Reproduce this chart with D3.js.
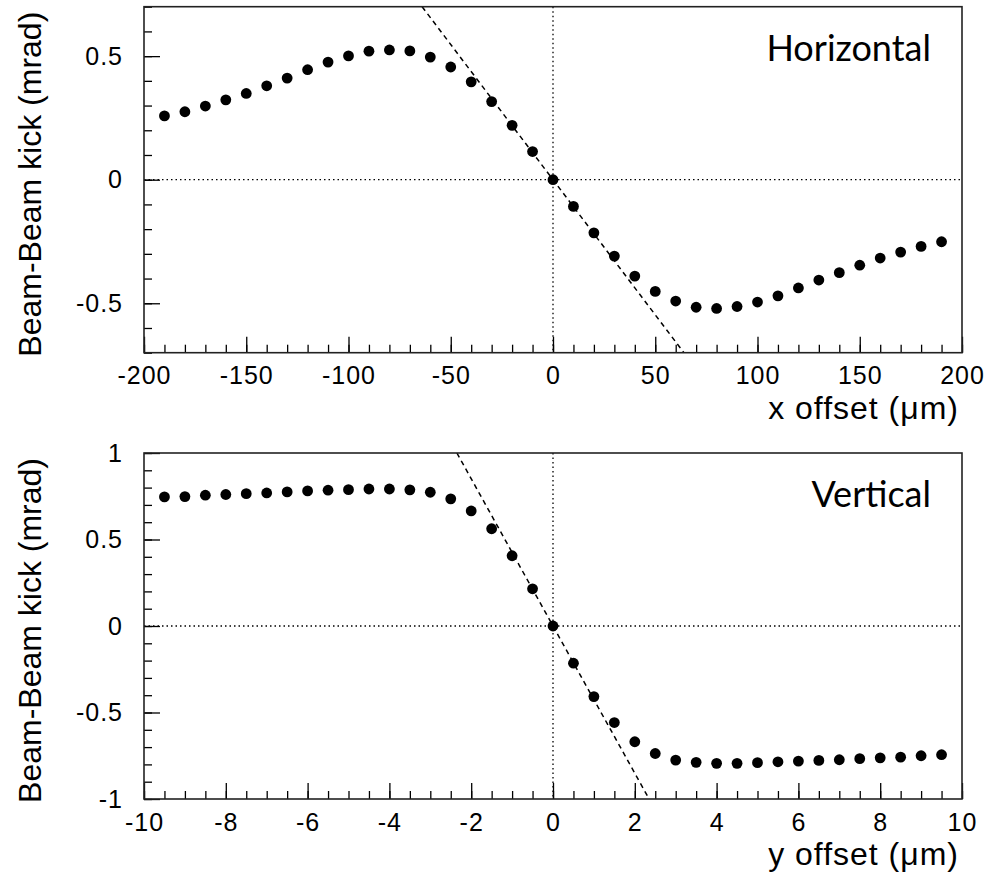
<!DOCTYPE html>
<html>
<meta charset="utf-8">
<style>
body { margin: 0; background: #fff; }
text { font-family: "Liberation Sans", Arial, Helvetica, sans-serif; fill: #000; }
.tick line { stroke: #000; stroke-width: 1.3; }
.tick text { font-size: 25px; letter-spacing: 1px; }
.axis path.domain { display: none; }
</style>
<body>
<script src="https://d3js.org/d3.v7.min.js"></script>
<script>
// horizontal scan: x offset (um) vs kick (mrad)
var hOffset = [-190,-180,-170,-160,-150,-140,-130,-120,-110,-100,-90,-80,-70,-60,-50,-40,-30,-20,-10,0,
               10,20,30,40,50,60,70,80,90,100,110,120,130,140,150,160,170,180,190];
var hKick = [0.258,0.275,0.298,0.323,0.349,0.380,0.411,0.445,0.476,0.501,0.520,0.525,0.521,0.496,0.456,0.396,0.316,0.220,0.114,0,
             -0.108,-0.215,-0.309,-0.390,-0.452,-0.491,-0.516,-0.521,-0.513,-0.495,-0.470,-0.438,-0.406,-0.376,-0.346,-0.317,-0.293,-0.270,-0.251];
var hFit = [[-64, 0.7], [64, -0.7]];
var hXTicks = [-200,-150,-100,-50,0,50,100,150,200];
var hYTicks = [-0.5,0,0.5];

// vertical scan: y offset (um) vs kick (mrad)
var vOffset = [-9.5,-9,-8.5,-8,-7.5,-7,-6.5,-6,-5.5,-5,-4.5,-4,-3.5,-3,-2.5,-2,-1.5,-1,-0.5,0,
               0.5,1,1.5,2,2.5,3,3.5,4,4.5,5,5.5,6,6.5,7,7.5,8,8.5,9,9.5];
var vKick = [0.746,0.748,0.756,0.760,0.765,0.769,0.775,0.781,0.785,0.788,0.792,0.792,0.787,0.773,0.735,0.665,0.562,0.406,0.215,0,
             -0.215,-0.408,-0.558,-0.669,-0.737,-0.775,-0.788,-0.794,-0.794,-0.790,-0.785,-0.781,-0.777,-0.773,-0.767,-0.762,-0.758,-0.750,-0.744];
var vFit = [[-2.35, 1], [2.35, -1]];
var vXTicks = [-10,-8,-6,-4,-2,0,2,4,6,8,10];
var vYTicks = [-1,-0.5,0,0.5,1];

var svg = d3.select("body").append("svg")
    .attr("width", 1003)
    .attr("height", 894);

var left = 144, right = 962;

function panel(id, top, bottom, xDom, yDom, xs, ys, fit, xTicks, yTicks, nMinorX, nMinorY, label, xTitle) {
  var x = d3.scaleLinear().domain(xDom).range([left, right]);
  var y = d3.scaleLinear().domain(yDom).range([bottom, top]);

  svg.append("defs").append("clipPath").attr("id", id)
    .append("rect").attr("x", left).attr("y", top)
    .attr("width", right - left).attr("height", bottom - top);

  // minor ticks
  svg.append("g").attr("class", "axis")
      .attr("transform", "translate(0," + bottom + ")")
      .call(d3.axisBottom(x).tickValues(x.ticks(nMinorX)).tickSizeInner(-8).tickSizeOuter(0).tickFormat(""));
  svg.append("g").attr("class", "axis")
      .attr("transform", "translate(" + left + ",0)")
      .call(d3.axisLeft(y).tickValues(y.ticks(nMinorY)).tickSizeInner(-8).tickSizeOuter(0).tickFormat(""));

  // major ticks + labels
  svg.append("g").attr("class", "axis")
      .attr("transform", "translate(0," + bottom + ")")
      .call(d3.axisBottom(x).tickValues(xTicks).tickSizeInner(-16).tickSizeOuter(0).tickPadding(14)
        .tickFormat(function(d) { return String(d); }));
  svg.append("g").attr("class", "axis")
      .attr("transform", "translate(" + left + ",0)")
      .call(d3.axisLeft(y).tickValues(yTicks).tickSizeInner(-16).tickSizeOuter(0).tickPadding(21)
        .tickFormat(function(d) { return String(d); }));

  var g = svg.append("g").attr("clip-path", "url(#" + id + ")");

  // zero lines
  g.append("line")
      .attr("x1", left).attr("x2", right).attr("y1", y(0)).attr("y2", y(0))
      .attr("stroke", "#000").attr("stroke-width", 1.3).attr("stroke-dasharray", "1.5,3");
  g.append("line")
      .attr("x1", x(0)).attr("x2", x(0)).attr("y1", top).attr("y2", bottom)
      .attr("stroke", "#000").attr("stroke-width", 1.3).attr("stroke-dasharray", "1.5,3");

  // linear slope at the origin
  g.append("path")
      .attr("d", d3.line().x(function(d) { return x(d[0]); }).y(function(d) { return y(d[1]); })(fit))
      .attr("fill", "none").attr("stroke", "#000").attr("stroke-width", 1.5)
      .attr("stroke-dasharray", "5,4");

  g.selectAll(".dot")
      .data(xs)
    .enter().append("circle")
      .attr("class", "dot")
      .attr("r", 5.4)
      .attr("cx", function(d) { return x(d); })
      .attr("cy", function(d, i) { return y(ys[i]); })
      .attr("fill", "#000");

  // frame
  svg.append("rect")
      .attr("x", left).attr("y", top)
      .attr("width", right - left).attr("height", bottom - top)
      .attr("fill", "none").attr("stroke", "#222").attr("stroke-width", 1.6);

  svg.append("text")
      .attr("x", 931).attr("y", top + 54)
      .attr("text-anchor", "end")
      .style("font-family", "Lato, 'Noto Sans', sans-serif")
      .style("font-size", "36px")
      .text(label);

  svg.append("text")
      .attr("x", 959).attr("y", bottom + 66)
      .attr("text-anchor", "end")
      .style("font-size", "32px")
      .style("letter-spacing", "1px")
      .text(xTitle);

  svg.append("text")
      .attr("transform", "translate(41," + (top + 5) + ") rotate(-90)")
      .attr("text-anchor", "end")
      .style("font-size", "32px")
      .text("Beam-Beam kick (mrad)");
}

panel("clipH", 6.7, 352.7, [-200, 200], [-0.7, 0.7], hOffset, hKick, hFit, hXTicks, hYTicks, 40, 14,
      "Horizontal", "x offset (\u03bcm)");
panel("clipV", 453, 799, [-10, 10], [-1, 1], vOffset, vKick, vFit, vXTicks, vYTicks, 40, 20,
      "Vertical", "y offset (\u03bcm)");
</script>
</body>
</html>
